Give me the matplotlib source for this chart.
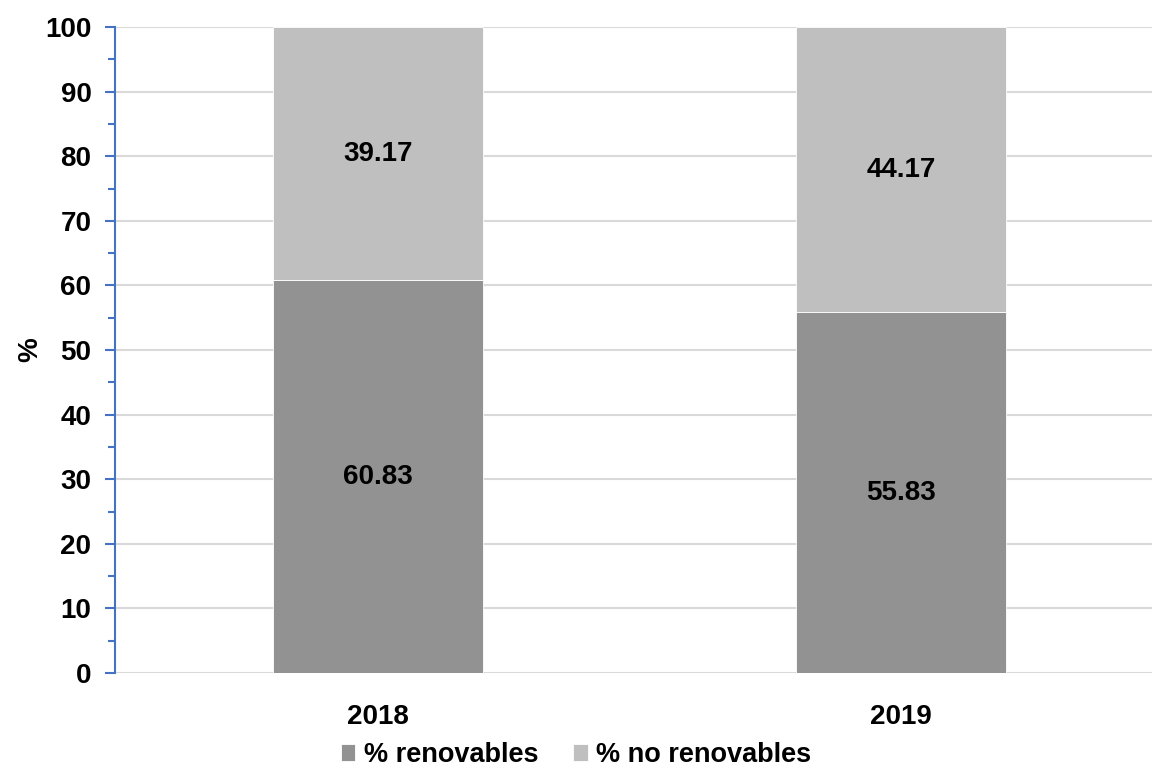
import matplotlib.pyplot as plt
from matplotlib.ticker import MultipleLocator

# DATA
years = ['2018', '2019']
renovables = [60.83, 55.83]
no_renovables = [39.17, 44.17]

plt.rcParams['font.family'] = ['Liberation Sans', 'DejaVu Sans']
plt.rcParams['font.weight'] = 'bold'
fs = 20

fig = plt.figure(figsize=(11.52, 7.76), dpi=100)
ax = fig.add_axes([115 / 1152, 1 - 673 / 776, (1152 - 115) / 1152, (673 - 27) / 776])

x = range(len(years))
dark = '#929292'
light = '#bfbfbf'
b1 = ax.bar(x, renovables, width=0.40, color=dark, edgecolor='white', linewidth=0.6,
            label='% renovables', zorder=3)
b2 = ax.bar(x, no_renovables, width=0.40, bottom=renovables, color=light, edgecolor='white',
            linewidth=0.6, label='% no renovables', zorder=3)

for bars, vals, bots in [(b1, renovables, [0, 0]), (b2, no_renovables, renovables)]:
    for rect, v, b in zip(bars, vals, bots):
        ax.text(rect.get_x() + rect.get_width() / 2, b + v / 2, f'{v:.2f}',
                ha='center', va='center', fontsize=fs, fontweight='bold', color='black', zorder=4)

ax.set_xlim(-0.503, 1.48)
ax.set_ylim(0, 100)
ax.set_xticks(list(x))
ax.set_xticklabels(years, fontsize=fs, fontweight='bold')
ax.tick_params(axis='x', length=0, pad=22)

ax.yaxis.set_major_locator(MultipleLocator(10))
ax.yaxis.set_minor_locator(MultipleLocator(5))
ax.tick_params(axis='y', which='major', length=7, width=1.5, color='#4472c4', labelsize=fs, pad=10)
ax.tick_params(axis='y', which='minor', length=5, width=1.5, color='#4472c4')
for lab in ax.get_yticklabels():
    lab.set_fontweight('bold')

ax.grid(axis='y', color='#d9d9d9', linewidth=1.5, zorder=0)
ax.set_axisbelow(True)
for s in ['top', 'right', 'bottom']:
    ax.spines[s].set_visible(False)
ax.spines['left'].set_color('#4472c4')
ax.spines['left'].set_linewidth(1.5)
ax.spines['left'].set_zorder(5)

fig.text(30 / 1152, 1 - 350 / 776, '%', rotation=90, ha='center', va='center',
         fontsize=fs, fontweight='bold')

fig.legend(handles=[b1, b2], loc='center', bbox_to_anchor=(0.5, 1 - 755 / 776), ncol=2,
           frameon=False, handlelength=0.55, handleheight=0.55,
           handletextpad=0.3, columnspacing=1.3, prop={'weight': 'bold', 'size': 19.5})

fig.savefig('out.png', dpi=100)
